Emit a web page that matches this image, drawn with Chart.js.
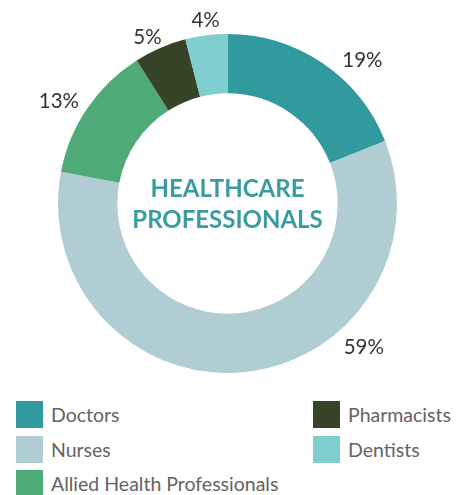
<!DOCTYPE html>
<html>
<head>
<meta charset="utf-8">
<script src="https://cdn.jsdelivr.net/npm/chart.js@4/dist/chart.umd.min.js"></script>
<style>
  html, body { margin: 0; padding: 0; background: #fff; }
  #wrap { position: relative; width: 459px; height: 495px; font-family: Lato, sans-serif; }
  #c { position: absolute; left: 0; top: 0; }
  .lg { position: absolute; display: flex; align-items: center; font-size: 19.5px; color: #636363; white-space: nowrap; height: 27px; }
  .lg span.sw { display: inline-block; width: 27px; height: 27px; margin-right: 8px; }
</style>
</head>
<body>
<div id="wrap">
  <canvas id="c" width="459" height="392"></canvas>
  <div id="legend"></div>
</div>
<script>
const categories = ["Doctors", "Nurses", "Allied Health Professionals", "Pharmacists", "Dentists"];
const shares = [19, 59, 13, 5, 4];
const pctLabels = ["19%", "59%", "13%", "5%", "4%"];
const colors = ["#319A9F", "#AFCDD2", "#4EAA77", "#364327", "#80CFCF"];
const centerLines = ["HEALTHCARE", "PROFESSIONALS"];

// where along each slice the outside label sits (fraction of the slice's sweep)
const labelAnchor = [0.63, 0.32, 0.44, 0.38, 0.53];

const outsideLabels = {
  id: 'outsideLabels',
  afterDatasetsDraw(chart) {
    const ctx = chart.ctx;
    const meta = chart.getDatasetMeta(0);
    ctx.save();
    ctx.font = '20.5px Lato';
    ctx.fillStyle = '#333333';
    ctx.textAlign = 'center';
    ctx.textBaseline = 'middle';
    meta.data.forEach((arc, i) => {
      const p = arc.getProps(['x', 'y', 'startAngle', 'endAngle', 'outerRadius'], true);
      const a = p.startAngle + (p.endAngle - p.startAngle) * labelAnchor[i];
      const r = p.outerRadius + (i < 3 ? 28 : 16);
      ctx.fillText(pctLabels[i], p.x + Math.cos(a) * r, p.y + Math.sin(a) * r + 1);
    });
    // center title
    const c = meta.data[0];
    ctx.font = 'bold 24px Lato';
    ctx.fillStyle = '#3A9CA1';
    ctx.fillText(centerLines[0], c.x, c.y - 14);
    ctx.fillText(centerLines[1], c.x, c.y + 17);
    ctx.restore();
  }
};

new Chart(document.getElementById('c'), {
  type: 'doughnut',
  data: {
    labels: categories,
    datasets: [{ data: shares, backgroundColor: colors, borderWidth: 0, hoverOffset: 0 }]
  },
  options: {
    responsive: false,
    animation: false,
    cutout: '65%',
    layout: { padding: { left: 58, right: 62, top: 34, bottom: 19 } },
    plugins: { legend: { display: false }, tooltip: { enabled: false } }
  },
  plugins: [outsideLabels]
});

// two-column legend, column-major
const legend = document.getElementById('legend');
const perCol = 3;
categories.forEach((name, i) => {
  const col = Math.floor(i / perCol), row = i % perCol;
  const d = document.createElement('div');
  d.className = 'lg';
  d.style.left = (col === 0 ? 16 : 313) + 'px';
  d.style.top = (401 + row * 34.5) + 'px';
  d.innerHTML = '<span class="sw" style="background:' + colors[i] + '"></span>' + name;
  legend.appendChild(d);
});
</script>
</body>
</html>
